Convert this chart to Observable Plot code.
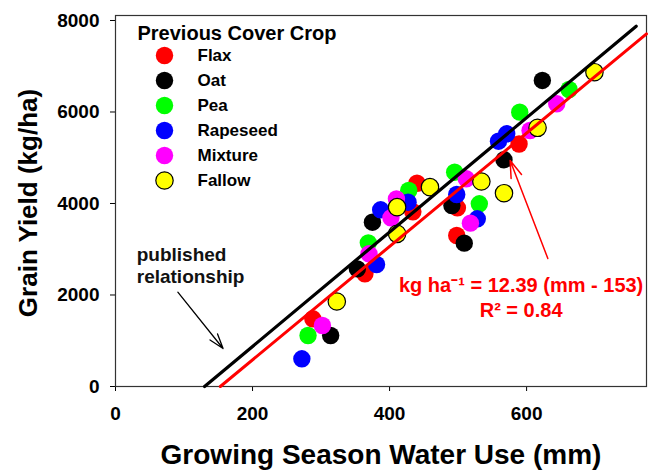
<!DOCTYPE html>
<html><head><meta charset="utf-8">
<script src="https://cdn.jsdelivr.net/npm/d3@7"></script>
<script src="https://cdn.jsdelivr.net/npm/@observablehq/plot@0.6"></script>
<style>body{margin:0;background:#fff}</style>
</head><body><div id="chart"></div>
<script>
// ---- data ----
const categories = ["Flax", "Oat", "Pea", "Rapeseed", "Mixture", "Fallow"];
const colors = ["#ff0000", "#000000", "#00ff00", "#0000ff", "#ff00ff", "#ffff00"];

const flaxWater = [288, 364, 434, 440, 499, 498, 589];
const flaxYield = [1480, 2463, 3820, 4443, 3906, 3300, 5300];
const oatWater = [314, 353, 375, 491, 509, 567, 623];
const oatYield = [1115, 2572, 3591, 3956, 3133, 4955, 6689];
const peaWater = [281, 369, 428, 495, 531, 590, 662];
const peaYield = [1115, 3140, 4284, 4684, 3993, 5996, 6492];
const rapeWater = [272, 381, 387, 427, 498, 528, 559, 571];
const rapeYield = [605, 2667, 3862, 4028, 4197, 3665, 5362, 5523];
const mixWater = [302, 370, 402, 410, 512, 518, 605, 644];
const mixYield = [1333, 2900, 3687, 4102, 4540, 3570, 5596, 6179];
const fallowWater = [323, 411, 411, 459, 534, 567, 616, 699];
const fallowYield = [1858, 3337, 3920, 4357, 4481, 4225, 5654, 6870];

const xTicks = [0, 200, 400, 600];
const yTicks = [0, 2000, 4000, 6000, 8000];

// line endpoints
const publishedLineX = [130, 760];
const publishedLineY = [0, 7875];
const fittedLineX = [153, 775];
const fittedLineY = [0, 7707];

// annotations
const publishedLabel = ["published", "relationship"];
const publishedLabelX = [31, 31];
const publishedLabelY = [2885, 2389];
const fitLabel = ["kg ha\u207B\u00B9 = 12.39 (mm - 153)", "R\u00B2 = 0.84"];
const fitLabelX = [592, 592];
const fitLabelY = [2208, 1661];
const publishedArrow = [{x1: 91, y1: 2061, x2: 157, y2: 830}];
const fitArrow = [{x1: 631, y1: 2798, x2: 576, y2: 4940}];

// ---- build ----
const seriesWater = [flaxWater, oatWater, peaWater, rapeWater, mixWater, fallowWater];
const seriesYield = [flaxYield, oatYield, peaYield, rapeYield, mixYield, fallowYield];
const rows = categories.flatMap((c, i) => seriesWater[i].map((w, j) => ({crop: c, mm: w, kg: seriesYield[i][j]})));
const lineRows = (xs, ys) => xs.map((x, i) => ({x, y: ys[i]}));
const textRows = (t, xs, ys) => t.map((s, i) => ({s, x: xs[i], y: ys[i]}));

const font = "'Liberation Sans', Arial, Helvetica, sans-serif";

const chart = Plot.plot({
  width: 658, height: 470,
  marginLeft: 115, marginRight: 12, marginTop: 15, marginBottom: 84,
  style: {fontFamily: font, fontWeight: "bold", background: "#fff", color: "#000"},
  x: {domain: [0, 775]},
  y: {domain: [0, 8109]},
  marks: [
    Plot.axisX(xTicks, {tickSize: 5, tickPadding: 15, fontSize: 19, fontWeight: "bold", label: null, tickFormat: d => String(d)}),
    Plot.axisY(yTicks, {tickSize: 5, tickPadding: 11, fontSize: 19, fontWeight: "bold", label: null, tickFormat: d => String(d)}),
    Plot.frame({stroke: "#333", strokeWidth: 1.2}),
    ...categories.map((c, i) => Plot.dot(rows.filter(d => d.crop === c), {
      x: "mm", y: "kg", r: 8.7, fill: colors[i],
      stroke: c === "Fallow" ? "#000" : null, strokeWidth: 1.2
    })),
    Plot.line(lineRows(publishedLineX, publishedLineY), {x: "x", y: "y", stroke: "#000", strokeWidth: 3.2}),
    Plot.line(lineRows(fittedLineX, fittedLineY), {x: "x", y: "y", stroke: "#ff0000", strokeWidth: 3}),
    Plot.arrow(publishedArrow, {x1: "x1", y1: "y1", x2: "x2", y2: "y2", stroke: "#000", strokeWidth: 1.3, headLength: 18, headAngle: 36}),
    Plot.arrow(fitArrow, {x1: "x1", y1: "y1", x2: "x2", y2: "y2", stroke: "#ff0000", strokeWidth: 1.5, headLength: 18, headAngle: 36}),
    Plot.text(textRows(publishedLabel, publishedLabelX, publishedLabelY), {x: "x", y: "y", text: "s", textAnchor: "start", lineAnchor: "middle", fontSize: 19, fill: "#111"}),
    Plot.text(textRows(fitLabel, fitLabelX, fitLabelY), {x: "x", y: "y", text: "s", textAnchor: "middle", lineAnchor: "middle", fontSize: 20, fill: "#ff0000"}),
    // legend
    Plot.text(["Previous Cover Crop"], {frameAnchor: "top-left", dx: 22, dy: 18, text: d => d, textAnchor: "start", lineAnchor: "middle", fontSize: 20}),
    ...categories.map((c, i) => Plot.dot([c], {frameAnchor: "top-left", dx: 49, dy: 40 + 25 * i, r: 8.7, fill: colors[i], stroke: c === "Fallow" ? "#000" : null, strokeWidth: 1.2})),
    ...categories.map((c, i) => Plot.text([c], {frameAnchor: "top-left", dx: 82, dy: 40 + 25 * i, text: d => d, textAnchor: "start", lineAnchor: "middle", fontSize: 17})),
    // axis titles
    Plot.text(["Growing Season Water Use (mm)"], {frameAnchor: "bottom", dy: 69, text: d => d, textAnchor: "middle", lineAnchor: "middle", fontSize: 28}),
    Plot.text(["Grain Yield (kg/ha)"], {frameAnchor: "left", dx: -87, dy: 2, rotate: -90, text: d => d, textAnchor: "middle", lineAnchor: "middle", fontSize: 26})
  ]
});
document.getElementById("chart").append(chart);
</script>
</body></html>
